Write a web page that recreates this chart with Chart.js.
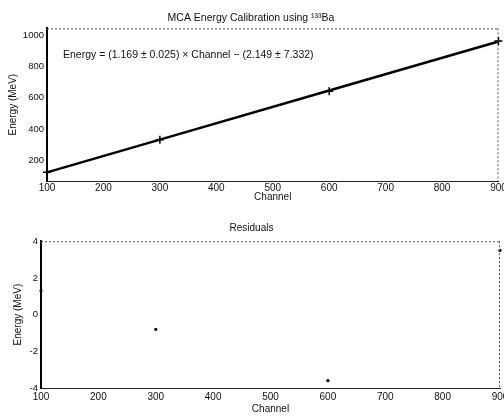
<!DOCTYPE html>
<html>
<head>
<meta charset="utf-8">
<script src="https://cdn.jsdelivr.net/npm/chart.js@4.4.1/dist/chart.umd.min.js"></script>
<style>
  html, body { margin: 0; padding: 0; background: #fff; }
  #wrap { position: relative; width: 504px; height: 417px; overflow: hidden; }
  canvas { position: absolute; left: 0; }
  #top { top: 0; }
  #bottom { top: 214px; }
</style>
</head>
<body>
<div id="wrap">
  <canvas id="top" width="504" height="214"></canvas>
  <canvas id="bottom" width="504" height="203"></canvas>
</div>
<script>
// calibration points
const channels = [100, 300, 600, 900];
const fitEnergies = [122, 332, 646, 960];
const energies = [123.3, 331.2, 642.4, 963.5];
const residuals = [1.3, -0.8, -3.6, 3.5];

// tick labels
const channelTicks = [100, 200, 300, 400, 500, 600, 700, 800, 900];
const energyTicks = [200, 400, 600, 800, 1000];
const residualTicks = [-4, -2, 0, 2, 4];

const fitLabel = 'Energy = (1.169 \u00b1 0.025) \u00d7 Channel \u2212 (2.149 \u00b1 7.332)';

Chart.defaults.font.family = '"Liberation Sans", Arial, sans-serif';
Chart.defaults.color = '#111';

// dotted top/right frame like the scanned plot
const framePlugin = {
  id: 'frame',
  afterDraw(chart) {
    const { ctx, chartArea: a } = chart;
    ctx.save();
    ctx.strokeStyle = '#555';
    ctx.lineWidth = 1;
    ctx.setLineDash([2, 2]);
    ctx.beginPath();
    ctx.moveTo(a.left, a.top + 0.5);
    ctx.lineTo(a.right, a.top + 0.5);
    ctx.moveTo(a.right - 0.5, a.top);
    ctx.lineTo(a.right - 0.5, a.bottom);
    ctx.stroke();
    ctx.restore();
  }
};

const fitTextPlugin = {
  id: 'fitText',
  afterDraw(chart) {
    const { ctx, chartArea: a } = chart;
    ctx.save();
    ctx.font = '10.5px "Liberation Sans", Arial, sans-serif';
    ctx.fillStyle = '#111';
    ctx.textBaseline = 'middle';
    ctx.fillText(fitLabel, a.left + 16, a.top + 27);
    ctx.restore();
  }
};

function xScale(tickPad, titlePadBottom, axisHeight) {
  return {
    type: 'linear',
    min: 100,
    max: 900,
    afterBuildTicks: s => { s.ticks = channelTicks.map(v => ({ value: v })); },
    afterFit: s => { s.height = axisHeight; s.paddingLeft = 0; s.paddingRight = 0; },
    grid: { display: false, drawTicks: false },
    border: { display: true, color: '#222', width: 1, dash: [3, 1] },
    ticks: { font: { size: 10 }, padding: tickPad, maxRotation: 0, autoSkip: false, callback: v => String(v) },
    title: { display: true, text: 'Channel', font: { size: 10 }, padding: { top: 0, bottom: titlePadBottom } }
  };
}

function yScale(min, max, ticks, width, titlePadTop) {
  return {
    type: 'linear',
    min: min,
    max: max,
    afterBuildTicks: s => { s.ticks = ticks.map(v => ({ value: v })); },
    afterFit: s => { s.width = width; s.paddingTop = 0; s.paddingBottom = 0; },
    grid: { display: false, drawTicks: false },
    border: { display: true, color: '#000', width: 2 },
    ticks: { font: { size: 9.5 }, padding: 3, callback: v => String(v) },
    title: { display: true, text: 'Energy (MeV)', font: { size: 10 }, padding: { top: titlePadTop, bottom: 0 } }
  };
}

new Chart(document.getElementById('top'), {
  type: 'line',
  data: {
    datasets: [{
      label: 'Fit',
      data: channels.map((c, i) => ({ x: c, y: fitEnergies[i] })),
      borderColor: '#000',
      borderWidth: 2.5,
      pointRadius: 0,
      fill: false,
      clip: false
    }, {
      label: 'Data',
      data: channels.map((c, i) => ({ x: c, y: energies[i] })),
      showLine: false,
      pointStyle: 'cross',
      pointRadius: 4,
      borderColor: '#000',
      borderWidth: 1.5,
      clip: false
    }]
  },
  options: {
    responsive: false,
    animation: false,
    devicePixelRatio: 1,
    layout: { padding: { left: 0, right: 2, top: 0, bottom: 0 } },
    scales: {
      x: xScale(1, 10.6, 33),
      y: yScale(67, 1044, energyTicks, 47, 7.6)
    },
    plugins: {
      legend: { display: false },
      tooltip: { enabled: false },
      title: {
        display: true,
        text: 'MCA Energy Calibration using \u00b9\u00b3\u00b3Ba',
        font: { size: 10.5, weight: 'normal' },
        color: '#111',
        padding: { top: 11.4, bottom: 4.4 }
      }
    }
  },
  plugins: [framePlugin, fitTextPlugin]
});

new Chart(document.getElementById('bottom'), {
  type: 'scatter',
  data: {
    datasets: [{
      label: 'Residuals',
      data: channels.map((c, i) => ({ x: c, y: residuals[i] })),
      pointStyle: 'circle',
      pointRadius: 1.6,
      backgroundColor: '#000',
      borderColor: '#000',
      borderWidth: 0,
      clip: false
    }]
  },
  options: {
    responsive: false,
    animation: false,
    devicePixelRatio: 1,
    layout: { padding: { left: 0, right: 1, top: 0, bottom: 0 } },
    scales: {
      x: xScale(3, 1.6, 29),
      y: yScale(-4, 4, residualTicks, 41, 12.6)
    },
    plugins: {
      legend: { display: false },
      tooltip: { enabled: false },
      title: {
        display: true,
        text: 'Residuals',
        font: { size: 10, weight: 'normal' },
        color: '#111',
        padding: { top: 8.6, bottom: 6.6 }
      }
    }
  },
  plugins: [framePlugin]
});
</script>
</body>
</html>
